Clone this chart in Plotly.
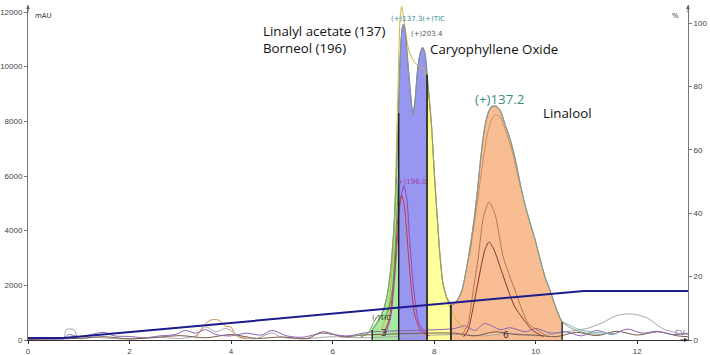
import plotly.graph_objects as go

# ---------------- data ----------------
x_ticks = [0, 2, 4, 6, 8, 10, 12]
y_ticks = [0, 2000, 4000, 6000, 8000, 10000, 12000]
y2_ticks = [0, 20, 40, 60, 80, 100]

# envelope (TIC) in mAU
env_t = [6.40, 6.60, 6.70, 6.78, 6.90, 7.00, 7.08, 7.15, 7.20, 7.24, 7.30, 7.33, 7.37,
         7.40, 7.43, 7.47, 7.52, 7.56, 7.58, 7.62, 7.67, 7.72, 7.77, 7.81, 7.86, 7.90,
         7.95, 8.00, 8.06, 8.11, 8.17, 8.25, 8.33, 8.40, 8.47, 8.55, 8.65, 8.73, 8.80,
         8.86, 8.92, 8.98, 9.05, 9.13, 9.21, 9.30, 9.40, 9.50, 9.60, 9.70, 9.80, 9.89,
         9.99, 10.09, 10.19, 10.28, 10.38, 10.48, 10.52, 10.65, 10.80, 11.00, 11.30]
env_v = [150, 200, 250, 370, 700, 1100, 1700, 2700, 3900, 5300, 8300, 10300, 11400,
         11550, 11300, 10400, 9300, 8500, 8250, 8700, 9800, 10450, 10700, 10550, 9700, 8900,
         7800, 6200, 4500, 3200, 2100, 1550, 1280, 1330, 1500, 1830, 2740, 3660, 4600,
         5600, 6700, 7600, 8230, 8530, 8560, 8400, 7870, 7320, 6590, 5670, 4870, 4280,
         3660, 2930, 2270, 1830, 1280, 800, 660, 480, 350, 250, 200]

# integration regions (start, end, fill, outline)
region_bounds = [(6.78, 7.30), (7.30, 7.86), (7.86, 8.33), (8.33, 10.52)]
region_fill = ["rgba(160,230,150,0.9)", "rgba(140,140,240,0.9)",
               "rgba(255,255,150,0.95)", "rgba(249,185,141,0.95)"]
region_line = ["#6cbf5c", "#7474d8", "#c4b440", "#909a88"]
region_labels = ["3", "", "", "6"]
region_label_pos = [(7.01, 256), None, None, (9.41, 183)]

# yellow (+)137.3 trace
yel_t = [6.95, 7.10, 7.20, 7.27, 7.33, 7.36, 7.42, 7.50, 7.60, 7.70, 7.80, 7.88, 7.95,
         8.00, 8.06, 8.11, 8.17, 8.25, 8.33, 8.45, 8.60]
yel_v = [300, 1200, 3500, 8000, 11800, 12200, 11500, 10600, 10200, 10000, 9900, 9200, 7800,
         6200, 4500, 3200, 2100, 1500, 1100, 700, 400]

# inner outline of linalool peak
lin2_t = [8.70, 8.85, 8.95, 9.05, 9.13, 9.21, 9.30, 9.40, 9.55, 9.70]
lin2_v = [3100, 5000, 6400, 7550, 8050, 8250, 8150, 7700, 6800, 5600]

# brown trace inside linalool peak
brn_t = [8.55, 8.67, 8.77, 8.87, 8.97, 9.08, 9.20, 9.36, 9.59, 9.85, 10.19]
brn_v = [150, 620, 1830, 3040, 4500, 5050, 4600, 3040, 1830, 620, 180]

# dark red trace inside linalool peak
drd_t = [8.58, 8.67, 8.77, 8.90, 9.00, 9.08, 9.18, 9.34, 9.59, 9.93, 10.15]
drd_v = [120, 370, 1210, 2450, 3300, 3590, 3300, 2450, 1210, 370, 120]

# (+)196.0 purple trace and red trace in the early peaks
pur_t = [7.05, 7.15, 7.25, 7.33, 7.40, 7.46, 7.52, 7.60, 7.70, 7.85]
pur_v = [250, 900, 3000, 5000, 5650, 5200, 3600, 1800, 600, 200]
red_t = [7.00, 7.12, 7.22, 7.30, 7.36, 7.42, 7.52, 7.62, 7.75, 7.90]
red_v = [200, 800, 2500, 4800, 5300, 4800, 2500, 900, 300, 150]

# (-)TIC green trace
grn_t = [6.55, 6.70, 6.80, 6.90, 7.00, 7.10, 7.18, 7.24, 7.30]
grn_v = [100, 250, 600, 900, 750, 1100, 1900, 3600, 6000]

# baseline traces
nz1_t = [0, 0.7, 0.8, 1.0, 1.2, 1.5, 1.7, 2.0, 2.3, 2.6, 2.9, 3.1, 3.3, 3.5, 3.7, 4.0, 4.3,
         4.6, 4.8, 5.1, 5.4, 5.8, 6.0, 6.3, 6.6, 6.8, 8.4, 8.6, 8.8, 9.0, 9.3, 9.5, 9.8,
         10.0, 10.3, 10.6, 10.9, 11.2, 11.5, 11.8, 12.1, 12.4, 12.7, 13.0]
nz1_v = [60, 60, 200, 120, 180, 280, 150, 130, 80, 150, 200, 350, 250, 380, 200, 150, 250,
         180, 350, 150, 100, 250, 200, 150, 250, 300, 420, 520, 350, 600, 380, 450, 300,
         420, 250, 300, 150, 350, 200, 400, 250, 320, 200, 250]
nz2_t = [0, 0.7, 0.75, 0.9, 1.0, 1.3, 1.6, 2.0, 2.5, 3.0, 3.3, 3.5, 3.7, 3.9, 4.2, 4.5,
         4.8, 5.0, 5.5, 6.0, 6.5, 8.5, 9.0, 9.5, 10.0, 10.6, 11.0, 11.3, 11.6, 11.9, 12.2,
         12.5, 12.8, 13.0]
nz2_v = [30, 30, 380, 380, 60, 100, 60, 40, 100, 60, 150, 480, 300, 420, 100, 50,
         260, 100, 60, 120, 80, 200, 150, 250, 150, 300, 420, 620, 900, 950, 800,
         420, 250, 200]
nz3_t = [3.30, 3.45, 3.60, 3.75, 3.90, 4.00, 4.10, 4.30]
nz3_v = [50, 500, 730, 730, 500, 470, 150, 50]
nz4_t = [0, 1.0, 1.5, 2.0, 2.5, 3.0, 3.5, 4.0, 4.5, 5.0, 5.5, 5.8, 6.2, 6.6, 8.4, 8.8,
         9.2, 9.6, 10.0, 10.4, 10.8, 11.2, 11.6, 12.0, 12.4, 12.8, 13.0]
nz4_v = [20, 60, 120, 40, 90, 160, 80, 200, 60, 110, 50, 300, 120, 180, 250, 150,
         300, 200, 180, 120, 280, 160, 320, 180, 300, 150, 120]
tail_t = [10.52, 10.65, 10.80, 11.00, 11.30, 11.60]
tail_v = [660, 560, 420, 320, 260, 230]

# gradient (%B) on right axis
grad_t = [0, 0.7, 10.95, 13.0]
grad_p = [0.6, 0.6, 15.5, 15.5]

# ---------------- figure ----------------
fig = go.Figure()

def env_at(t):
    for i in range(len(env_t) - 1):
        if env_t[i] <= t <= env_t[i + 1]:
            f = (t - env_t[i]) / (env_t[i + 1] - env_t[i])
            return env_v[i] + f * (env_v[i + 1] - env_v[i])
    return 0

for (a, b), fc, lc in zip(region_bounds, region_fill, region_line):
    xs = [t for t in env_t if a <= t <= b]
    ys = [v for t, v in zip(env_t, env_v) if a <= t <= b]
    fig.add_trace(go.Scatter(x=[a] + xs + [b], y=[0] + ys + [0], mode="lines",
                             fill="toself", fillcolor=fc,
                             line=dict(color=lc, width=1.2, shape="spline", smoothing=0.5),
                             hoverinfo="skip", showlegend=False))

# baseline traces
for tt, vv, col in [(nz2_t, nz2_v, "#a8a8a8"), (nz4_t, nz4_v, "#7a5a48"),
                    (nz1_t, nz1_v, "#8a64b4"), (nz3_t, nz3_v, "#c8904a"),
                    (tail_t, tail_v, "#78b4b4")]:
    fig.add_trace(go.Scatter(x=tt, y=vv, mode="lines",
                             line=dict(color=col, width=1, shape="spline", smoothing=0.8),
                             hoverinfo="skip", showlegend=False))

# peak traces
for tt, vv, col in [(yel_t, yel_v, "#c8b838"), (lin2_t, lin2_v, "#c8906a"),
                    (brn_t, brn_v, "#b87848"), (drd_t, drd_v, "#8e3030"),
                    (pur_t, pur_v, "#a040c0"), (red_t, red_v, "#c83838"),
                    (grn_t, grn_v, "#4aa040"), (env_t, env_v, "#8c9a84")]:
    fig.add_trace(go.Scatter(x=tt, y=vv, mode="lines",
                             line=dict(color=col, width=1, shape="spline", smoothing=0.6),
                             hoverinfo="skip", showlegend=False))

# drop lines at region boundaries
for a, b in region_bounds:
    for t in (a, b):
        fig.add_trace(go.Scatter(x=[t, t], y=[0, env_at(t)], mode="lines",
                                 line=dict(color="#222222", width=1.2),
                                 hoverinfo="skip", showlegend=False))

# gradient line
fig.add_trace(go.Scatter(x=grad_t, y=grad_p, yaxis="y2", mode="lines",
                         line=dict(color="#1c1c8c", width=2),
                         hoverinfo="skip", showlegend=False))

ann = []
def txt(x, y, s, size=12, color="#111111", xanchor="left", family="Open Sans"):
    ann.append(dict(x=x, y=y, xref="x", yref="y", text=s, showarrow=False,
                    xanchor=xanchor, yanchor="middle", align="left",
                    font=dict(family=family, size=size, color=color)))

txt(4.59, 10995, "Linalyl acetate (137)<br>Borneol (196)", 13.3)
txt(7.88, 10647, "Caryophyllene Oxide", 13.3)
txt(8.77, 8818, "(+)137.2", 13.3, "#3c8c7c")
txt(10.10, 8306, "Linalool", 13.3)
txt(7.11, 11745, "(+)137.3(+)TIC", 7, "#3a8a9a", family="DejaVu Sans")
txt(7.50, 11196, "(+)203.4", 7, "#555555", family="DejaVu Sans")
txt(7.19, 5781, "(+)196.0", 7, "#a040a0", family="DejaVu Sans")
txt(6.74, 805, "(-)TIC", 7, "#333333", family="DejaVu Sans")
for lab, pos in zip(region_labels, region_label_pos):
    if pos:
        txt(pos[0], pos[1], lab, 9, "#333333", "center", "DejaVu Sans")
txt(12.70, 260, "CV", 7, "#6a6aa0", family="DejaVu Sans")

ann.append(dict(x=0.008, y=0.985, xref="paper", yref="paper", text="mAU", showarrow=False,
                xanchor="left", yanchor="top",
                font=dict(family="DejaVu Sans", size=7, color="#333333")))
ann.append(dict(x=0.99, y=0.985, xref="paper", yref="paper", text="%", showarrow=False,
                xanchor="right", yanchor="top",
                font=dict(family="DejaVu Sans", size=7, color="#333333")))
# axis arrows
for xx, yy, axx, ayy, col in [(0, 1, 0, 9, "#666666"), (1, 1, 0, 9, "#666666"),
                              (1, 0, -9, 0, "#222222")]:
    ann.append(dict(x=xx, y=yy, xref="paper", yref="paper", text="", showarrow=True,
                    ax=axx, ay=ayy, arrowhead=2, arrowsize=0.8, arrowwidth=1,
                    arrowcolor=col))

tickfont = dict(family="Liberation Sans", size=8, color="#444444")
fig.update_layout(
    width=710, height=355,
    margin=dict(l=28, r=22, t=5, b=15, autoexpand=False),
    paper_bgcolor="white", plot_bgcolor="white",
    annotations=ann,
    xaxis=dict(range=[0, 13], tickvals=x_ticks, ticktext=[str(v) for v in x_ticks],
               showgrid=False, zeroline=False, showline=True, linecolor="#333333",
               ticks="outside", ticklen=3, tickcolor="#333333", tickfont=tickfont,
               automargin=False),
    yaxis=dict(range=[0, 12256], tickvals=y_ticks, ticktext=[str(v) for v in y_ticks],
               showgrid=False, zeroline=False, showline=True, linecolor="#777777",
               ticks="outside", ticklen=3, tickcolor="#777777", tickfont=tickfont,
               ticklabelstandoff=0, automargin=False),
    yaxis2=dict(range=[0, 105.7], tickvals=y2_ticks, ticktext=[str(v) for v in y2_ticks],
                overlaying="y", side="right", anchor="x",
                showgrid=False, zeroline=False, showline=True, linecolor="#777777",
                ticks="outside", ticklen=3, tickcolor="#777777", tickfont=tickfont,
                automargin=False),
)

fig.write_html("out.html")
